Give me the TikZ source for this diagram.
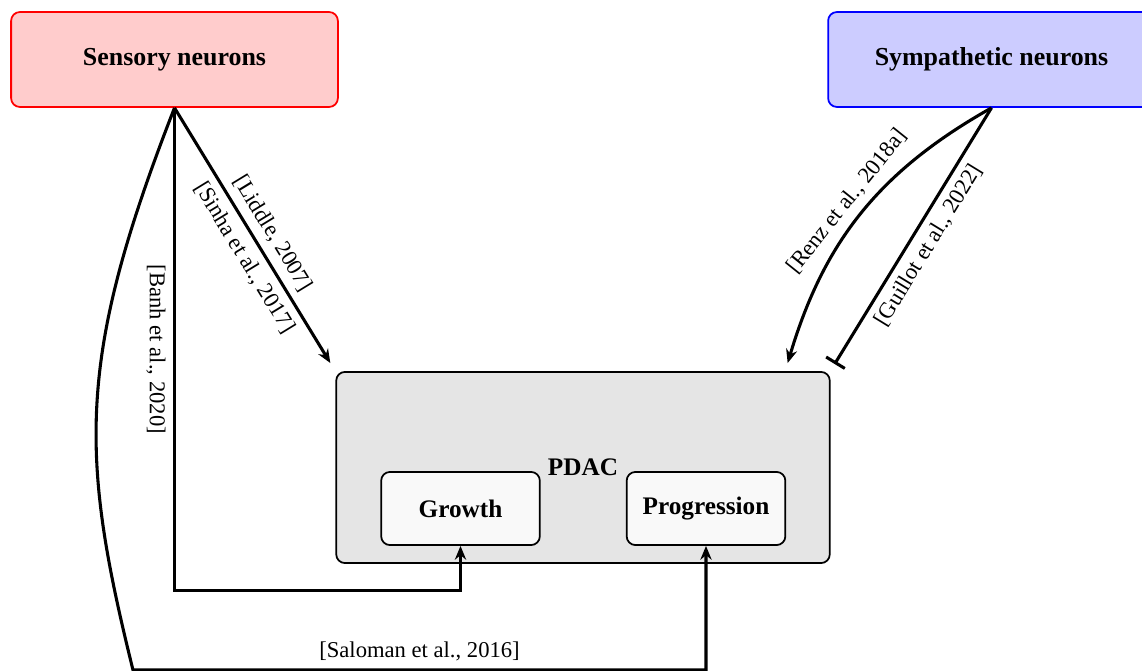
\documentclass[tikz,border=0pt]{standalone}
\usepackage{fontspec}
\setmainfont{Liberation Serif}
\usepackage{tikz}
\usetikzlibrary{arrows.meta,positioning,calc}

\begin{document}
\begin{tikzpicture}[
    x=0.016cm, y=-0.016cm,
    neuron/.style={draw, thick, rounded corners=4pt, minimum width=5.23cm, minimum height=1.52cm, font=\fontsize{11.8}{14}\selectfont\bfseries},
    tumour/.style={draw, thick, rounded corners=4pt, fill=gray!20, minimum width=7.9cm, minimum height=3.06cm, font=\fontsize{11.5}{14}\selectfont\bfseries},
    stage/.style={draw, thick, rounded corners=4pt, fill=gray!5, minimum width=2.54cm, minimum height=1.17cm, font=\fontsize{11.5}{14}\selectfont\bfseries},
    arrow/.style={-{Stealth[length=2.2mm, width=1.8mm]}, line width=1.4pt},
    inhibit/.style={-{Bar[width=3.5mm]}, line width=1.4pt},
    citation/.style={font=\fontsize{10.3}{12}\selectfont, sloped}
]
\useasboundingbox (0,0) rectangle (1142,671);

\node[neuron, draw=red, fill=red!20] (sensory) at (174.5,59.5) {Sensory neurons};
\node[neuron, draw=blue, fill=blue!20] (sympathetic) at (991.5,59.5) {Sympathetic neurons};

\node[tumour] (pdac) at (583,467.5) {PDAC};
\node[stage] (growth) at (460.5,508.5) {Growth};
\node[stage] (progression) at (706,508.5) {Progression};

% sensory innervation
\draw[arrow] (sensory.south) -- node[citation, above, pos=0.53] {[Liddle, 2007]}
    node[citation, below, pos=0.55] {[Sinha et al., 2017]} ([shift={(-5,-8)}]pdac.north west);
\draw[arrow] (sensory.south) -- node[citation, below] {[Banh et al., 2020]} ++(0,483) -| (growth.south);
\draw[arrow] (sensory.south) .. controls (76,360) and (80,456) .. (133,670)
    -| node[citation, above, pos=0.25] {[Saloman et al., 2016]} (progression.south);

% sympathetic innervation
\draw[arrow] (sympathetic.south) to[bend right=22] node[citation, above, pos=0.5] {[Renz et al., 2018a]} ([shift={(-43,-8)}]pdac.north east);
\draw[inhibit] (sympathetic.south) -- node[citation, below, pos=0.5] {[Guillot et al., 2022]} ([shift={(4,-7)}]pdac.north east);

\end{tikzpicture}
\end{document}
